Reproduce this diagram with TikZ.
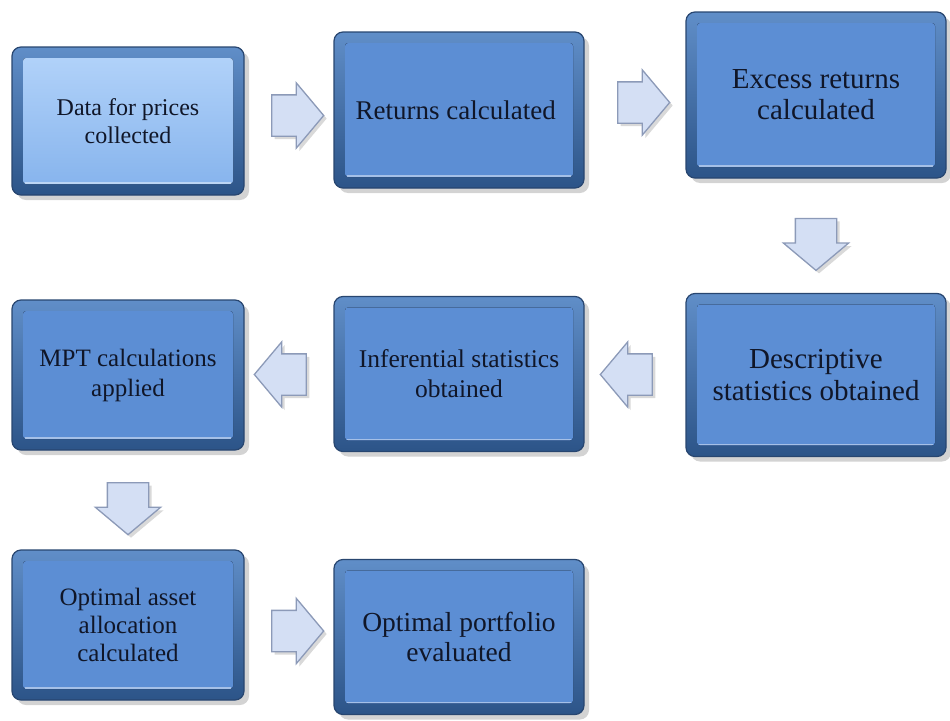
\documentclass[tikz,border=0pt]{standalone}
\usepackage{fontspec}
\setmainfont{Liberation Serif}
\usepackage{tikz}
\usetikzlibrary{shapes.arrows, shadows, calc}
\definecolor{rimtop}{RGB}{96, 142, 200}
\definecolor{rimbot}{RGB}{44, 84, 136}
\definecolor{rimedge}{RGB}{40, 70, 112}
\definecolor{panel}{RGB}{92, 142, 212}
\definecolor{paneltop}{RGB}{180, 212, 250}
\definecolor{panelbot}{RGB}{132, 178, 236}
\definecolor{arrfill}{RGB}{212, 223, 244}
\definecolor{arredge}{RGB}{140, 154, 184}
\definecolor{ink}{RGB}{16, 22, 40}

\begin{document}
\begin{tikzpicture}[
   x=1pt, y=-1pt,
   stepbox/.style 2 args={rectangle, rounded corners=9, draw=rimedge, line width=1.2,
               top color=rimtop, bottom color=rimbot, text=ink, align=center,
               drop shadow={shadow xshift=5pt, shadow yshift=-5pt, opacity=0.35},
               path picture={\fill[rounded corners=3, top color=#1, bottom color=#2]
                 ([shift={(11,11)}]path picture bounding box.north west) rectangle
                 ([shift={(-11,-11)}]path picture bounding box.south east);
                 \draw[white, opacity=0.45, line width=1.5]
                 ([shift={(13,-12)}]path picture bounding box.south west) --
                 ([shift={(-13,-12)}]path picture bounding box.south east);}},
   boxfont/.style 2 args={font=\rmfamily\fontsize{#1}{#2}\selectfont},
   blockarr/.style={single arrow, draw=arredge, fill=arrfill, line width=1.3,
                    minimum height=52, single arrow head extend=12, single arrow tip angle=100,
                    drop shadow={shadow xshift=3pt, shadow yshift=-3pt, opacity=0.3}},
   horiz/.style={blockarr, inner xsep=0, inner ysep=20},
   vert/.style={blockarr, inner xsep=20, inner ysep=0}
  ]

  \useasboundingbox (0, 0) rectangle (950, 720);

  % Row 1
  \node (data) at (128, 121) [stepbox={paneltop}{panelbot}, minimum width=232, minimum height=148, boxfont={24}{28}]
    { Data for prices\\collected };
  \node (returns) at (459, 110) [stepbox={panel}{panel}, minimum width=250, minimum height=156, boxfont={27}{31}]
    { Returns calculated };
  \node (excess) at (816, 95) [stepbox={panel}{panel}, minimum width=260, minimum height=166, boxfont={29}{31}]
    { Excess returns\\calculated };

  % Row 2
  \node (descr) at (816, 375) [stepbox={panel}{panel}, minimum width=260, minimum height=163, boxfont={29}{32}]
    { Descriptive\\statistics obtained };
  \node (infer) at (459, 374) [stepbox={panel}{panel}, minimum width=250, minimum height=155, boxfont={25.5}{30}]
    { Inferential statistics\\obtained };
  \node (mpt) at (128, 375) [stepbox={panel}{panel}, minimum width=232, minimum height=150, boxfont={25}{30}]
    { MPT calculations\\applied };

  % Row 3
  \node (alloc) at (128, 625) [stepbox={panel}{panel}, minimum width=232, minimum height=150, boxfont={25}{28}]
    { Optimal asset\\allocation\\calculated };
  \node (portf) at (459, 637) [stepbox={panel}{panel}, minimum width=250, minimum height=155, boxfont={27.5}{30}]
    { Optimal portfolio\\evaluated };

  \foreach \N/\A/\B/\R/\S in {a1/data.east/returns.west/0/horiz, a2/returns.east/excess.west/0/horiz,
                              a3/excess.south/descr.north/270/vert, a4/descr.west/infer.east/180/horiz,
                              a5/infer.west/mpt.east/180/horiz, a6/mpt.south/alloc.north/270/vert,
                              a7/alloc.east/portf.west/0/horiz} {
    \node (\N) at ($(\A)!0.5!(\B)$) [\S, shape border rotate=\R] {};
  }

\end{tikzpicture}
\end{document}
